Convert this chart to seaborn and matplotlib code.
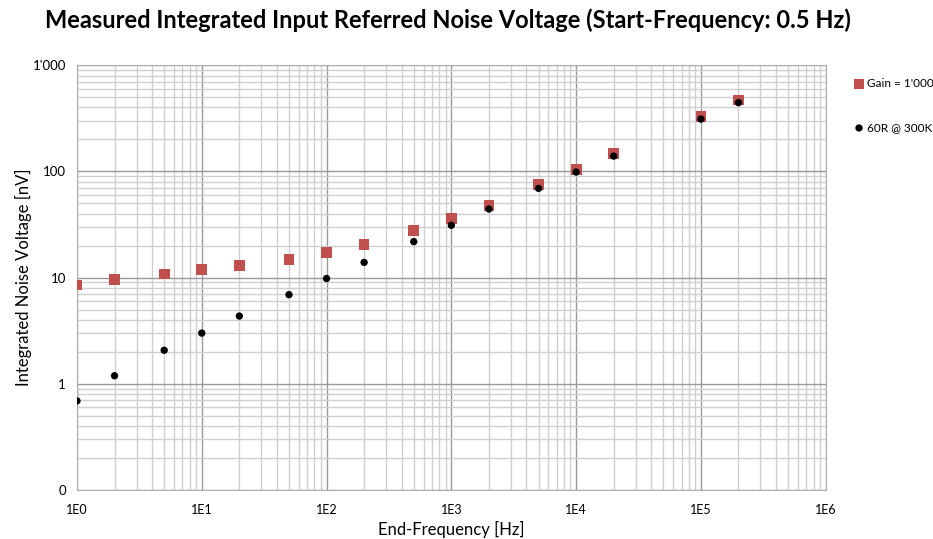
import matplotlib
matplotlib.use("Agg")
import matplotlib.pyplot as plt
import seaborn as sns
import pandas as pd
from matplotlib.ticker import FixedLocator, LogLocator, NullFormatter

# End-frequency [Hz]
freq = [1, 2, 5, 10, 20, 50, 100, 200, 500, 1000, 2000, 5000, 1e4, 2e4, 1e5, 2e5]
# Integrated noise [nV]
gain_1000 = [8.5, 9.6, 10.8, 11.9, 13.0, 14.9, 17.2, 20.5, 27.9, 36.2,
             48.1, 74.8, 104.4, 147.9, 329.6, 470.0]
r60_300k = [0.69, 1.19, 2.07, 3.0, 4.34, 6.9, 9.8, 13.9, 21.8, 31.1,
            44.2, 69.2, 98.6, 139.4, 311.0, 444.0]

x_ticks = [1e0, 1e1, 1e2, 1e3, 1e4, 1e5, 1e6]
x_labels = ["1E0", "1E1", "1E2", "1E3", "1E4", "1E5", "1E6"]
y_ticks = [0.1, 1, 10, 100, 1000]
y_labels = ["0", "1", "10", "100", "1'000"]

df = pd.DataFrame({"freq": freq, "gain": gain_1000, "r60": r60_300k})

sns.set_style("white")
plt.rcParams["font.family"] = ["Lato", "DejaVu Sans"]
plt.rcParams["text.color"] = "black"
plt.rcParams["axes.labelcolor"] = "black"
plt.rcParams["xtick.color"] = "black"
plt.rcParams["ytick.color"] = "black"

fig = plt.figure(figsize=(9.33, 5.39), dpi=100)
ax = fig.add_axes([0.0825, 0.091, 0.8025, 0.788])

sns.scatterplot(data=df, x="freq", y="gain", ax=ax, marker="s", s=60,
                color="#C0504D", edgecolor="none", label="Gain = 1'000", zorder=3)
sns.scatterplot(data=df, x="freq", y="r60", ax=ax, marker="o", s=28,
                color="black", edgecolor="none", label="60R @ 300K", zorder=4)

ax.set_xscale("log")
ax.set_yscale("log")
ax.set_xlim(1, 1e6)
ax.set_ylim(0.1, 1000)

ax.xaxis.set_major_locator(FixedLocator(x_ticks))
ax.set_xticklabels(x_labels, fontsize=9)
ax.yaxis.set_major_locator(FixedLocator(y_ticks))
ax.set_yticklabels(y_labels, fontsize=9.5)
ax.xaxis.set_minor_locator(LogLocator(base=10, subs=range(2, 10), numticks=20))
ax.yaxis.set_minor_locator(LogLocator(base=10, subs=range(2, 10), numticks=20))
ax.xaxis.set_minor_formatter(NullFormatter())
ax.yaxis.set_minor_formatter(NullFormatter())

ax.grid(True, which="major", color="#9a9a9a", linewidth=1.0)
ax.grid(True, which="minor", color="#cfcfcf", linewidth=1.0)
ax.set_axisbelow(True)
for s in ax.spines.values():
    s.set_color("#b0b0b0")
ax.tick_params(axis="x", which="both", length=0, pad=10)
ax.tick_params(axis="y", which="minor", length=0)
ax.tick_params(axis="y", which="major", length=4, color="#888888", pad=4)

ax.set_xlabel("End-Frequency [Hz]", fontsize=12, labelpad=4)
ax.set_ylabel("Integrated Noise Voltage [nV]", fontsize=12, labelpad=0)
fig.suptitle("Measured Integrated Input Referred Noise Voltage (Start-Frequency: 0.5 Hz)",
             fontsize=17, fontweight="bold", x=0.48, y=0.985)

handles, labels = ax.get_legend_handles_labels()
ax.get_legend().remove()
fig.legend(handles, labels, loc="upper left", bbox_to_anchor=(0.903, 0.875),
           frameon=False, fontsize=8.5, labelspacing=2.8, handletextpad=0.2,
           handlelength=1.0)

fig.savefig("out.png", dpi=100)
